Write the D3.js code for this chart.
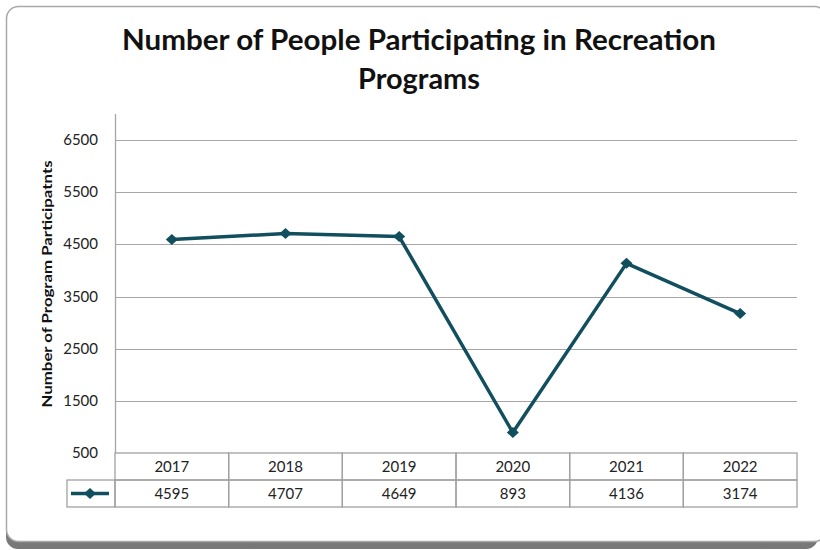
<!DOCTYPE html>
<meta charset="utf-8">
<style>
body { margin: 0; background: #fff; }
svg { font-family: Lato, "Open Sans", sans-serif; }
.grid line { stroke: #a6a6a6; stroke-width: 1; }
.cell { fill: none; stroke: #a0a0a0; stroke-width: 1.3; }
.tbl text { font-size: 15px; fill: #222; text-anchor: middle; }
</style>
<body>
<svg width="820" height="550"></svg>
<script src="https://d3js.org/d3.v7.min.js"></script>
<script>
var years = ["2017", "2018", "2019", "2020", "2021", "2022"];
var participants = [4595, 4707, 4649, 893, 4136, 3174];
var yTicks = [500, 1500, 2500, 3500, 4500, 5500, 6500];

var svg = d3.select("svg");
var defs = svg.append("defs");
var grad = defs.append("linearGradient").attr("id", "shadow").attr("x1", 0).attr("y1", 0).attr("x2", 0).attr("y2", 1);
grad.append("stop").attr("offset", "0%").attr("stop-color", "#c4c4c4");
grad.append("stop").attr("offset", "100%").attr("stop-color", "#777");

// frame with bottom shadow
svg.append("rect").attr("x", 6).attr("y", 10).attr("width", 812).attr("height", 539)
  .attr("rx", 12).attr("fill", "url(#shadow)");
svg.append("rect").attr("x", 6.5).attr("y", 6.5).attr("width", 820).attr("height", 535)
  .attr("rx", 12).attr("fill", "#fff").attr("stroke", "#a8a8a8").attr("stroke-width", 1.5);

// title
svg.append("text").attr("x", 419).attr("y", 50).attr("text-anchor", "middle")
  .attr("textLength", 594).attr("lengthAdjust", "spacingAndGlyphs")
  .style("font-size", "28px").style("font-weight", "bold").attr("fill", "#111")
  .text("Number of People Participating in Recreation");
svg.append("text").attr("x", 419).attr("y", 89).attr("text-anchor", "middle")
  .attr("textLength", 122).attr("lengthAdjust", "spacingAndGlyphs")
  .style("font-size", "28px").style("font-weight", "bold").attr("fill", "#111")
  .text("Programs");

var left = 115, right = 797;
var x = d3.scaleBand().domain(years).range([left, right]);
var y = d3.scaleLinear().domain([500, 7000]).range([453, 114]);

// gridlines
svg.append("g").attr("class", "grid").selectAll("line").data(yTicks.slice(1)).enter().append("line")
  .attr("x1", left).attr("x2", right)
  .attr("y1", function(d) { return Math.round(y(d)) + 0.5; })
  .attr("y2", function(d) { return Math.round(y(d)) + 0.5; });

// y axis line
svg.append("line").attr("x1", left + 0.5).attr("x2", left + 0.5).attr("y1", y(7000)).attr("y2", y(500))
  .attr("stroke", "#a6a6a6").attr("stroke-width", 1.3);

// y tick labels
svg.append("g").selectAll("text").data(yTicks).enter().append("text")
  .attr("x", 98).attr("y", function(d) { return y(d) + 5; })
  .attr("text-anchor", "end").style("font-size", "15px").attr("fill", "#222")
  .text(function(d) { return d; });

// y axis title
svg.append("text").attr("transform", "translate(52,284) rotate(-90)")
  .attr("text-anchor", "middle").attr("textLength", 247).attr("lengthAdjust", "spacingAndGlyphs")
  .style("font-size", "14px").style("font-weight", "bold").attr("fill", "#111")
  .text("Number of Program Participatnts");

// data table
var tbl = svg.append("g").attr("class", "tbl");
var rowTop = 453, rowMid = 480, rowBot = 507;
tbl.selectAll(".hdr").data(years).enter().append("rect").attr("class", "cell")
  .attr("x", function(d) { return x(d); }).attr("y", rowTop)
  .attr("width", x.bandwidth()).attr("height", rowMid - rowTop);
tbl.selectAll(".val").data(years).enter().append("rect").attr("class", "cell")
  .attr("x", function(d) { return x(d); }).attr("y", rowMid)
  .attr("width", x.bandwidth()).attr("height", rowBot - rowMid);
tbl.append("rect").attr("class", "cell").attr("x", 67).attr("y", rowMid)
  .attr("width", left - 67).attr("height", rowBot - rowMid);
tbl.selectAll(".yr").data(years).enter().append("text")
  .attr("x", function(d) { return x(d) + x.bandwidth() / 2; }).attr("y", rowTop + 19)
  .text(function(d) { return d; });
tbl.selectAll(".num").data(participants).enter().append("text")
  .attr("x", function(d, i) { return x(years[i]) + x.bandwidth() / 2; }).attr("y", rowMid + 19)
  .text(function(d) { return d; });

var color = "#114e5e";
var diamond = "M0,-5.5L6,0L0,5.5L-6,0Z";
// legend key
tbl.append("line").attr("x1", 71).attr("x2", 109).attr("y1", 493.5).attr("y2", 493.5)
  .attr("stroke", color).attr("stroke-width", 3.5);
tbl.append("path").attr("d", diamond)
  .attr("transform", "translate(90,493.5)").attr("fill", color);

// line
var line = d3.line()
  .x(function(d, i) { return x(years[i]) + x.bandwidth() / 2; })
  .y(function(d) { return y(d); });
svg.append("path").datum(participants).attr("d", line)
  .attr("fill", "none").attr("stroke", color).attr("stroke-width", 3.5).attr("stroke-linejoin", "round");
svg.append("g").selectAll("path").data(participants).enter().append("path")
  .attr("d", diamond)
  .attr("transform", function(d, i) { return "translate(" + (x(years[i]) + x.bandwidth() / 2) + "," + y(d) + ")"; })
  .attr("fill", color);
</script>
</body>
